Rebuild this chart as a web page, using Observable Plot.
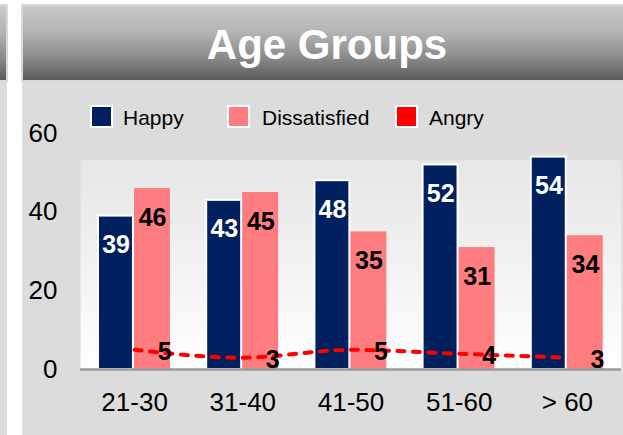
<!DOCTYPE html>
<html>
<head>
<meta charset="utf-8">
<script src="https://cdn.jsdelivr.net/npm/d3@7"></script>
<script src="https://cdn.jsdelivr.net/npm/@observablehq/plot@0.6"></script>
<style>
  html, body { margin: 0; padding: 0; background: #ffffff; width: 623px; height: 435px; overflow: hidden; font-family: "Liberation Sans", Arial, sans-serif; }
  .hdr { position: absolute; box-sizing: border-box; border: 2px solid #d8d8d8; background: linear-gradient(to bottom, #c9c9c9 0%, #b4b4b4 35%, #8a8a8a 70%, #5a5a5a 100%); }
  .body { position: absolute; background: #dcdcdc; }
  #title { position: absolute; left: 22px; top: 24px; width: 610px; text-align: center; color: #ffffff; font-weight: bold; font-size: 42px; line-height: 42px; white-space: nowrap; }
  .sw { position: absolute; box-sizing: content-box; width: 19px; height: 19px; border: 2px solid #ffffff; top: 105px; }
  .lt { position: absolute; top: 107px; font-size: 21px; line-height: 21px; color: #000; white-space: nowrap; }
  #chart { position: absolute; left: 0; top: 82px; }
</style>
</head>
<body>
<div class="hdr" style="left:-20px; top:4px; width:28px; height:78px;"></div>
<div class="body" style="left:0; top:82px; width:7px; height:353px;"></div>
<div class="hdr" style="left:21px; top:4px; width:620px; height:78px;"></div>
<div class="body" style="left:22px; top:82px; width:601px; height:353px;"></div>
<div id="title">Age Groups</div>
<div id="chart"></div>
<div id="legend"></div>
<script>
const categories = ["21-30", "31-40", "41-50", "51-60", "> 60"];
const happy = [39, 43, 48, 52, 54];
const dissatisfied = [46, 45, 35, 31, 34];
const angry = [5, 3, 5, 4, 3];
const yTicks = [0, 20, 40, 60];
const seriesNames = ["Happy", "Dissatisfied", "Angry"];
const seriesColors = ["#002060", "#ff7c80", "#ff0000"];

const happyData = categories.map((c, i) => ({cat: c, v: happy[i]}));
const dissData = categories.map((c, i) => ({cat: c, v: dissatisfied[i]}));
const angryData = categories.map((c, i) => ({cat: c, v: angry[i]}));

const svg = Plot.plot({
  width: 623,
  height: 353,
  marginLeft: 80,
  marginRight: 2,
  marginTop: 51,
  marginBottom: 66,
  style: {background: "none", fontFamily: "'Liberation Sans', Arial, sans-serif", fontSize: "26px", color: "#000"},
  x: {domain: categories, padding: 0, round: false, tickSize: 0, tickPadding: 23, label: null},
  y: {domain: [0, 60], ticks: yTicks, tickSize: 0, tickPadding: 23, label: null},
  marks: [
    Plot.frame({fill: "url(#plotbg)", stroke: "none"}),
    Plot.barY(happyData, {x: "cat", y: "v", fill: seriesColors[0], stroke: "#ffffff", strokeWidth: 2, insetLeft: 18, insetRight: 55.25}),
    Plot.barY(dissData, {x: "cat", y: "v", fill: seriesColors[1], insetLeft: 54, insetRight: 18.25}),
    Plot.ruleY([0], {stroke: "#9a9a9a", strokeWidth: 2.5}),
    Plot.line(angryData, {x: "cat", y: "v", stroke: seriesColors[2], strokeWidth: 4, strokeDasharray: "7,8.5", strokeLinecap: "round", curve: "monotone-x"}),
    Plot.text(happyData, {x: "cat", y: "v", text: d => String(d.v), dx: -18.5, dy: 29, fill: "#ffffff", fontWeight: "bold", fontSize: 25}),
    Plot.text(dissData, {x: "cat", y: "v", text: d => String(d.v), dx: 18, dy: 29, fill: "#000000", fontWeight: "bold", fontSize: 25}),
    Plot.text(angryData, {x: "cat", y: "v", text: d => String(d.v), dx: 30, dy: 2, fill: "#000000", fontWeight: "bold", fontSize: 25})
  ]
});
svg.insertAdjacentHTML("afterbegin",
  '<defs><linearGradient id="plotbg" x1="0" y1="0" x2="0" y2="1">' +
  '<stop offset="0" stop-color="#dcdcdc"/><stop offset="0.11" stop-color="#dddddd"/>' +
  '<stop offset="0.115" stop-color="#e6e6e6"/><stop offset="0.5" stop-color="#f0f0f0"/>' +
  '<stop offset="1" stop-color="#ffffff"/></linearGradient></defs>');
document.getElementById("chart").appendChild(svg);

const legend = document.getElementById("legend");
const swLeft = [90, 227, 395];
const txtLeft = [123, 262, 429];
seriesNames.forEach((name, i) => {
  const sw = document.createElement("div");
  sw.className = "sw";
  sw.style.left = swLeft[i] + "px";
  sw.style.background = seriesColors[i];
  legend.appendChild(sw);
  const t = document.createElement("div");
  t.className = "lt";
  t.style.left = txtLeft[i] + "px";
  t.textContent = name;
  legend.appendChild(t);
});
</script>
</body>
</html>
